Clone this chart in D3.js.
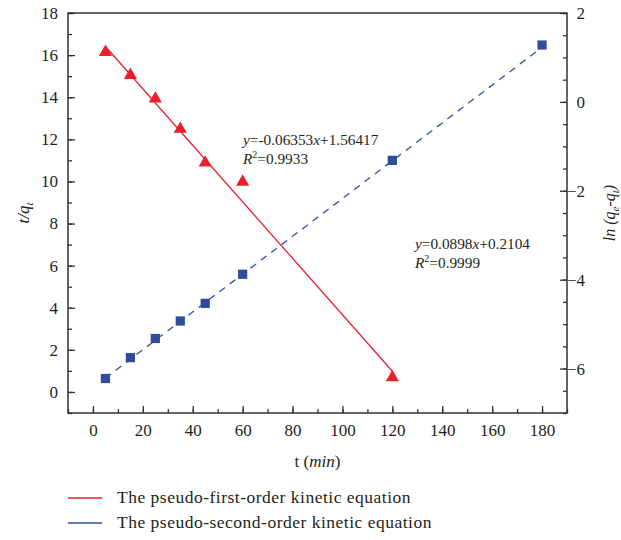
<!DOCTYPE html>
<html>
<head>
<meta charset="utf-8">
<script src="https://cdn.jsdelivr.net/npm/d3@7"></script>
<style>
  body { margin: 0; background: #fff; }
  svg text { font-family: "Liberation Serif", "DejaVu Serif", serif; fill: #231f20; }
</style>
</head>
<body>
<svg id="kinetics" width="621" height="540"></svg>
<script>
// time points (min)
const timesFirst = [5, 15, 25, 35, 45, 60, 120];
const timesSecond = [5, 15, 25, 35, 45, 60, 120, 180];
// ln(qe - qt), right axis
const lnValues = [1.12, 0.60, 0.07, -0.61, -1.37, -1.80, -6.20];
// t/qt, left axis
const tqValues = [0.64, 1.63, 2.54, 3.37, 4.21, 5.59, 11.0, 16.48];
// fitted line end points [t, value]
const fitFirst = [[5, 1.246], [120, -6.06]];
const fitSecond = [[5, 0.659], [180, 16.37]];
// tick labels
const xTicks = [0, 20, 40, 60, 80, 100, 120, 140, 160, 180];
const leftTicks = [0, 2, 4, 6, 8, 10, 12, 14, 16, 18];
const rightTicks = [-6, -4, -2, 0, 2];
const legendLabels = ["The pseudo-first-order kinetic equation", "The pseudo-second-order kinetic equation"];

document.addEventListener('DOMContentLoaded', _ => {
  const svg = d3.select("svg#kinetics");
  const red = "#e8202a";
  const blue = "#2f4c9e";
  const axisColor = "#333";

  const margins = { top: 13, right: 54, bottom: 127, left: 68 };
  const width = +svg.attr("width");
  const height = +svg.attr("height");
  const x0 = margins.left, x1 = width - margins.right;
  const y0 = margins.top, y1 = height - margins.bottom;

  const xScale = d3.scaleLinear().domain([-10, 190]).range([x0, x1]);
  const yLeft = d3.scaleLinear().domain([-1, 18]).range([y1, y0]);
  const yRight = d3.scaleLinear().domain([-7, 2]).range([y1, y0]);

  // minor ticks first
  svg.append("g")
    .attr("transform", `translate(0,${y1})`)
    .call(d3.axisBottom(xScale).tickValues(d3.range(-10, 191, 10)).tickFormat("").tickSizeInner(-4).tickSizeOuter(0))
    .call(g => g.select(".domain").remove());
  svg.append("g")
    .attr("transform", `translate(${x0},0)`)
    .call(d3.axisLeft(yLeft).tickValues(d3.range(-1, 18.1, 1)).tickFormat("").tickSizeInner(-4).tickSizeOuter(0))
    .call(g => g.select(".domain").remove());
  svg.append("g")
    .attr("transform", `translate(${x1},0)`)
    .call(d3.axisRight(yRight).tickValues(d3.range(-7, 2.01, 0.5)).tickFormat("").tickSizeInner(-4).tickSizeOuter(0))
    .call(g => g.select(".domain").remove());

  // major ticks + labels
  svg.append("g")
    .attr("transform", `translate(0,${y1})`)
    .call(d3.axisBottom(xScale).tickValues(xTicks).tickSizeInner(-7).tickSizeOuter(0).tickPadding(11))
    .call(g => g.select(".domain").remove());
  svg.append("g")
    .attr("transform", `translate(${x0},0)`)
    .call(d3.axisLeft(yLeft).tickValues(leftTicks).tickSizeInner(-7).tickSizeOuter(0).tickPadding(10))
    .call(g => g.select(".domain").remove());
  svg.append("g")
    .attr("transform", `translate(${x1},0)`)
    .call(d3.axisRight(yRight).tickValues(rightTicks).tickSizeInner(-7).tickSizeOuter(0))
    .call(g => g.select(".domain").remove())
    .call(g => g.selectAll("text").attr("text-anchor", "end").attr("x", 18));

  svg.selectAll(".tick line").attr("stroke", axisColor).attr("stroke-width", 1.3);
  svg.selectAll(".tick text").style("font-size", "17px").attr("fill", "#231f20");

  // frame
  svg.append("rect")
    .attr("x", x0).attr("y", y0)
    .attr("width", x1 - x0).attr("height", y1 - y0)
    .attr("fill", "none").attr("stroke", axisColor).attr("stroke-width", 1.5);

  // fitted lines
  svg.append("line")
    .attr("x1", xScale(fitFirst[0][0])).attr("y1", yRight(fitFirst[0][1]))
    .attr("x2", xScale(fitFirst[1][0])).attr("y2", yRight(fitFirst[1][1]))
    .attr("stroke", red).attr("stroke-width", 1.3);
  svg.append("line")
    .attr("x1", xScale(fitSecond[0][0])).attr("y1", yLeft(fitSecond[0][1]))
    .attr("x2", xScale(fitSecond[1][0])).attr("y2", yLeft(fitSecond[1][1]))
    .attr("stroke", blue).attr("stroke-width", 1.3).attr("stroke-dasharray", "7,6");

  // markers
  const tri = d3.symbol(d3.symbolTriangle).size(75);
  timesFirst.forEach((t, i) => {
    svg.append("path")
      .attr("d", tri())
      .attr("transform", `translate(${xScale(t)},${yRight(lnValues[i])})`)
      .attr("fill", red);
  });
  const sq = d3.symbol(d3.symbolSquare).size(85);
  timesSecond.forEach((t, i) => {
    svg.append("path")
      .attr("d", sq())
      .attr("transform", `translate(${xScale(t)},${yLeft(tqValues[i])})`)
      .attr("fill", blue);
  });

  // equations
  function equation(x, y, slope, intercept, r2) {
    let t = svg.append("text").attr("x", x).attr("y", y).style("font-size", "15.3px");
    t.append("tspan").text("y").attr("font-style", "italic");
    t.append("tspan").text("=" + slope);
    t.append("tspan").text("x").attr("font-style", "italic");
    t.append("tspan").text("+" + intercept);
    let r = svg.append("text").attr("x", x).attr("y", y + 19).style("font-size", "15.3px");
    r.append("tspan").text("R").attr("font-style", "italic");
    r.append("tspan").text("2").attr("dy", -6).style("font-size", "10px");
    r.append("tspan").text("=" + r2).attr("dy", 6);
  }
  equation(243, 145, "-0.06353", "1.56417", "0.9933");
  equation(415, 249, "0.0898", "0.2104", "0.9999");

  // axis titles
  let xl = svg.append("text").attr("x", (x0 + x1) / 2).attr("y", 467)
    .attr("text-anchor", "middle").style("font-size", "17px");
  xl.append("tspan").text("t (");
  xl.append("tspan").text("min").attr("font-style", "italic");
  xl.append("tspan").text(")");

  let ll = svg.append("text")
    .attr("transform", `translate(29,${(y0 + y1) / 2}) rotate(-90)`)
    .attr("text-anchor", "middle").style("font-size", "17px").attr("font-style", "italic");
  ll.append("tspan").text("t/q");
  ll.append("tspan").text("t").attr("dy", 4).style("font-size", "11px");

  let rl = svg.append("text")
    .attr("transform", `translate(615,${(y0 + y1) / 2}) rotate(-90)`)
    .attr("text-anchor", "middle").style("font-size", "16px").attr("font-style", "italic");
  rl.append("tspan").text("ln (q");
  rl.append("tspan").text("e").attr("dy", 4).style("font-size", "11px");
  rl.append("tspan").text("-q").attr("dy", -4);
  rl.append("tspan").text("t").attr("dy", 4).style("font-size", "11px");
  rl.append("tspan").text(")").attr("dy", -4);

  // legend
  const legendColors = [red, blue];
  legendLabels.forEach((label, i) => {
    let y = 498 + i * 25;
    svg.append("line")
      .attr("x1", 68).attr("x2", 102).attr("y1", y).attr("y2", y)
      .attr("stroke", legendColors[i]).attr("stroke-width", 1.3);
    svg.append("text").text(label)
      .attr("x", 117).attr("y", y + 5)
      .style("font-size", "17.5px").style("letter-spacing", "0.5px");
  });
});
</script>
</body>
</html>
